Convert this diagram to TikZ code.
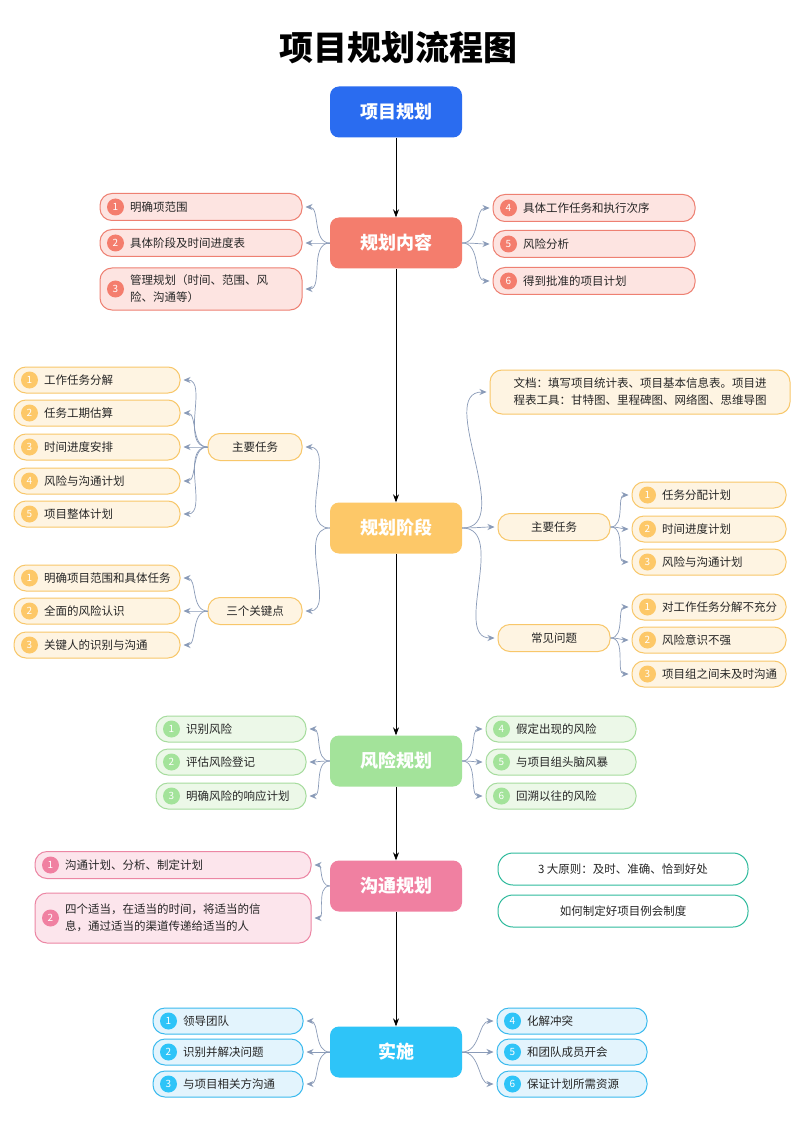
\documentclass[tikz,border=0pt]{standalone}
\usepackage{fontspec}
\setmainfont{Noto Sans CJK SC}
\usetikzlibrary{arrows.meta}
\definecolor{redD}{HTML}{EE8072}\definecolor{redF}{HTML}{FDE4E1}\definecolor{redC}{HTML}{F47D6D}
\definecolor{oraD}{HTML}{F8C76A}\definecolor{oraF}{HTML}{FEF4E2}\definecolor{oraC}{HTML}{FDC868}
\definecolor{greD}{HTML}{A6DC9E}\definecolor{greF}{HTML}{ECF8E8}\definecolor{greC}{HTML}{A3E39A}
\definecolor{pinD}{HTML}{EC86A4}\definecolor{pinF}{HTML}{FCE5EC}\definecolor{pinC}{HTML}{F080A1}
\definecolor{bluD}{HTML}{3BBAEE}\definecolor{bluF}{HTML}{E3F4FD}\definecolor{bluC}{HTML}{2EC4F8}
\definecolor{teaD}{HTML}{2EBA9C}\definecolor{topC}{HTML}{2A6CF0}\definecolor{conn}{HTML}{8A9BB8}
\tikzset{
 bubbox/.style={draw=#1D, fill=#1F, line width=1, rounded corners=12, inner sep=0},
 hub/.style={fill=#1, rounded corners=9, minimum width=132, minimum height=51, text=white, font=\fontsize{18}{20}\selectfont\bfseries},
 numc/.style={circle, fill=#1C, text=white, minimum size=17, inner sep=0, font=\fontsize{10}{10}\selectfont},
 link/.style={conn, line width=0.7, -{Stealth[length=7,width=6]}, shorten >=3},
 mainl/.style={black, line width=0.7, -{Stealth[length=8,width=6]}},
 txt/.style={font=\fontsize{11.5}{17}\selectfont, align=left, text=black!85}
}
\newcommand\bub[8]{%
 \node[bubbox=#6, minimum width=#4, minimum height=#5] (#1) at (#2,#3) {};
 \node[txt, anchor=west] at ([xshift=27]#1.west) {#8};
 \node[numc=#6] at ([xshift=16]#1.west) {#7};}
\newcommand\pbox[7]{%
 \node[bubbox=#6, minimum width=#4, minimum height=#5, txt] (#1) at (#2,#3) {#7};}
\begin{document}
\begin{tikzpicture}[x=1pt,y=-1pt]
\useasboundingbox[fill=white] (0,0) rectangle (800,1131);
\node at (398,48) {\fontsize{34}{36}\selectfont\bfseries 项目规划流程图};
\node[hub=topC] (h0) at (396,112) {项目规划};
\node[hub=redC] (h1) at (396,243) {规划内容};
\node[hub=oraC] (h2) at (396,528) {规划阶段};
\node[hub=greC] (h3) at (396,761) {风险规划};
\node[hub=pinC] (h4) at (396,886) {沟通规划};
\node[hub=bluC] (h5) at (396,1052) {实施};
\draw[mainl] (h0) -- (h1); \draw[mainl] (h1) -- (h2); \draw[mainl] (h2) -- (h3);
\draw[mainl] (h3) -- (h4); \draw[mainl] (h4) -- (h5);
% section 1
\bub{a1}{201}{207}{202}{27}{red}{1}{明确项范围}
\bub{a2}{201}{243}{202}{27}{red}{2}{具体阶段及时间进度表}
\bub{a3}{201}{289}{202}{42}{red}{3}{管理规划（时间、范围、风\\险、沟通等）}
\bub{a4}{594}{208}{202}{27}{red}{4}{具体工作任务和执行次序}
\bub{a5}{594}{244}{202}{27}{red}{5}{风险分析}
\bub{a6}{594}{281}{202}{27}{red}{6}{得到批准的项目计划}
\foreach \n in {a1,a2,a3} \draw[link] (h1.west) to[out=180,in=0] (\n.east);
\foreach \n in {a4,a5,a6} \draw[link] (h1.east) to[out=0,in=180] (\n.west);
% section 2
\pbox{m1}{255}{447}{94}{27}{ora}{主要任务}
\pbox{m2}{255}{611}{94}{27}{ora}{三个关键点}
\bub{b1}{97}{380}{166}{26}{ora}{1}{工作任务分解}
\bub{b2}{97}{413}{166}{26}{ora}{2}{任务工期估算}
\bub{b3}{97}{447}{166}{26}{ora}{3}{时间进度安排}
\bub{b4}{97}{481}{166}{26}{ora}{4}{风险与沟通计划}
\bub{b5}{97}{514}{166}{26}{ora}{5}{项目整体计划}
\bub{c1}{97}{578}{166}{26}{ora}{1}{明确项目范围和具体任务}
\bub{c2}{97}{611}{166}{26}{ora}{2}{全面的风险认识}
\bub{c3}{97}{645}{166}{26}{ora}{3}{关键人的识别与沟通}
\draw[link] (h2.west) to[out=180,in=0] (m1.east);
\draw[link] (h2.west) to[out=180,in=0] (m2.east);
\foreach \n in {b1,b2,b3,b4,b5} \draw[link] (m1.west) to[out=180,in=0] (\n.east);
\foreach \n in {c1,c2,c3} \draw[link] (m2.west) to[out=180,in=0] (\n.east);
\pbox{doc}{640}{392}{300}{44}{ora}{文档：填写项目统计表、项目基本信息表。项目进\\程表工具：甘特图、里程碑图、网络图、思维导图}
\pbox{m3}{554}{527}{112}{27}{ora}{主要任务}
\pbox{m4}{554}{638}{112}{27}{ora}{常见问题}
\bub{d1}{709}{495}{154}{26}{ora}{1}{任务分配计划}
\bub{d2}{709}{529}{154}{26}{ora}{2}{时间进度计划}
\bub{d3}{709}{562}{154}{26}{ora}{3}{风险与沟通计划}
\bub{e1}{709}{607}{154}{26}{ora}{1}{对工作任务分解不充分}
\bub{e2}{709}{640}{154}{26}{ora}{2}{风险意识不强}
\bub{e3}{709}{674}{154}{26}{ora}{3}{项目组之间未及时沟通}
\draw[link] (h2.east) to[out=0,in=180] (doc.west);
\draw[link] (h2.east) to[out=0,in=180] (m3.west);
\draw[link] (h2.east) to[out=0,in=180] (m4.west);
\foreach \n in {d1,d2,d3} \draw[link] (m3.east) to[out=0,in=180] (\n.west);
\foreach \n in {e1,e2,e3} \draw[link] (m4.east) to[out=0,in=180] (\n.west);
% section 3
\bub{f1}{231}{729}{150}{26}{gre}{1}{识别风险}
\bub{f2}{231}{762}{150}{26}{gre}{2}{评估风险登记}
\bub{f3}{231}{796}{150}{26}{gre}{3}{明确风险的响应计划}
\bub{f4}{561}{729}{150}{26}{gre}{4}{假定出现的风险}
\bub{f5}{561}{762}{150}{26}{gre}{5}{与项目组头脑风暴}
\bub{f6}{561}{796}{150}{26}{gre}{6}{回溯以往的风险}
\foreach \n in {f1,f2,f3} \draw[link] (h3.west) to[out=180,in=0] (\n.east);
\foreach \n in {f4,f5,f6} \draw[link] (h3.east) to[out=0,in=180] (\n.west);
% section 4
\bub{g1}{173}{865}{276}{27}{pin}{1}{沟通计划、分析、制定计划}
\bub{g2}{173}{918}{276}{50}{pin}{2}{四个适当，在适当的时间，将适当的信\\息，通过适当的渠道传递给适当的人}
\foreach \n in {g1,g2} \draw[link] (h4.west) to[out=180,in=0] (\n.east);
\node[draw=teaD, fill=white, line width=1, rounded corners=15, minimum width=250, minimum height=32, txt] (t1) at (623,869) {3 大原则：及时、准确、恰到好处};
\node[draw=teaD, fill=white, line width=1, rounded corners=15, minimum width=250, minimum height=32, txt] (t2) at (623,911) {如何制定好项目例会制度};
% section 5
\bub{k1}{228}{1021}{150}{26}{blu}{1}{领导团队}
\bub{k2}{228}{1052}{150}{26}{blu}{2}{识别并解决问题}
\bub{k3}{228}{1084}{150}{26}{blu}{3}{与项目相关方沟通}
\bub{k4}{572}{1021}{150}{26}{blu}{4}{化解冲突}
\bub{k5}{572}{1052}{150}{26}{blu}{5}{和团队成员开会}
\bub{k6}{572}{1084}{150}{26}{blu}{6}{保证计划所需资源}
\foreach \n in {k1,k2,k3} \draw[link] (h5.west) to[out=180,in=0] (\n.east);
\foreach \n in {k4,k5,k6} \draw[link] (h5.east) to[out=0,in=180] (\n.west);
\end{tikzpicture}
\end{document}
